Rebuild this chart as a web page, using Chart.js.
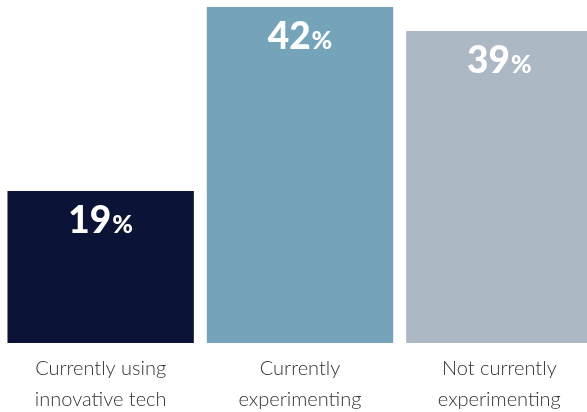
<!DOCTYPE html>
<html>
<head>
<meta charset="utf-8">
<script src="https://cdn.jsdelivr.net/npm/chart.js@4"></script>
<style>
  html, body { margin: 0; padding: 0; background: #fff; overflow: hidden; }
  #wrap { width: 599px; height: 426px; }
</style>
</head>
<body>
<div id="wrap"><canvas id="chart"></canvas></div>
<script>
// categories and values
var categories = [
    ["Currently using", "innovative tech"],
    ["Currently", "experimenting"],
    ["Not currently", "experimenting"]
];
var shares = [19, 42, 39];
var barColors = ['#0b1436', '#75a4ba', '#acb9c4'];

// value labels inside the top of each bar, "%" drawn a bit smaller
var valueLabels = {
    id: 'valueLabels',
    afterDatasetsDraw: function(chart) {
        var ctx = chart.ctx;
        var meta = chart.getDatasetMeta(0);
        ctx.save();
        ctx.fillStyle = '#ffffff';
        ctx.textBaseline = 'alphabetic';
        meta.data.forEach(function(bar, i) {
            var num = String(shares[i]);
            ctx.font = '900 37px Lato';
            var w1 = ctx.measureText(num).width;
            ctx.font = '900 25px Lato';
            var w2 = ctx.measureText('%').width;
            var x = bar.x - (w1 + w2 + 1) / 2;
            var y = bar.y + 42;
            ctx.font = '900 37px Lato';
            ctx.textAlign = 'left';
            ctx.fillText(num, x, y);
            ctx.font = '900 25px Lato';
            ctx.fillText('%', x + w1 + 1, y);
        });
        ctx.restore();
    }
};

var ctx = document.getElementById('chart').getContext('2d');
new Chart(ctx, {
    type: 'bar',
    data: {
        labels: categories,
        datasets: [{
            data: shares,
            backgroundColor: barColors,
            borderWidth: 0,
            barPercentage: 0.935,
            categoryPercentage: 1
        }]
    },
    options: {
        responsive: true,
        maintainAspectRatio: false,
        animation: false,
        layout: { padding: { top: 7, left: 1, right: 0, bottom: 0 } },
        plugins: {
            legend: { display: false },
            tooltip: { enabled: false }
        },
        scales: {
            x: {
                grid: { display: false, drawTicks: false },
                border: { display: false },
                ticks: {
                    color: '#333333',
                    padding: 10.5,
                    font: { family: "'Liberation Sans Narrow', Lato", size: 20, weight: '300', lineHeight: 31 / 20 }
                }
            },
            y: {
                display: false,
                min: 0,
                max: 42
            }
        }
    },
    plugins: [valueLabels]
});
</script>
</body>
</html>
